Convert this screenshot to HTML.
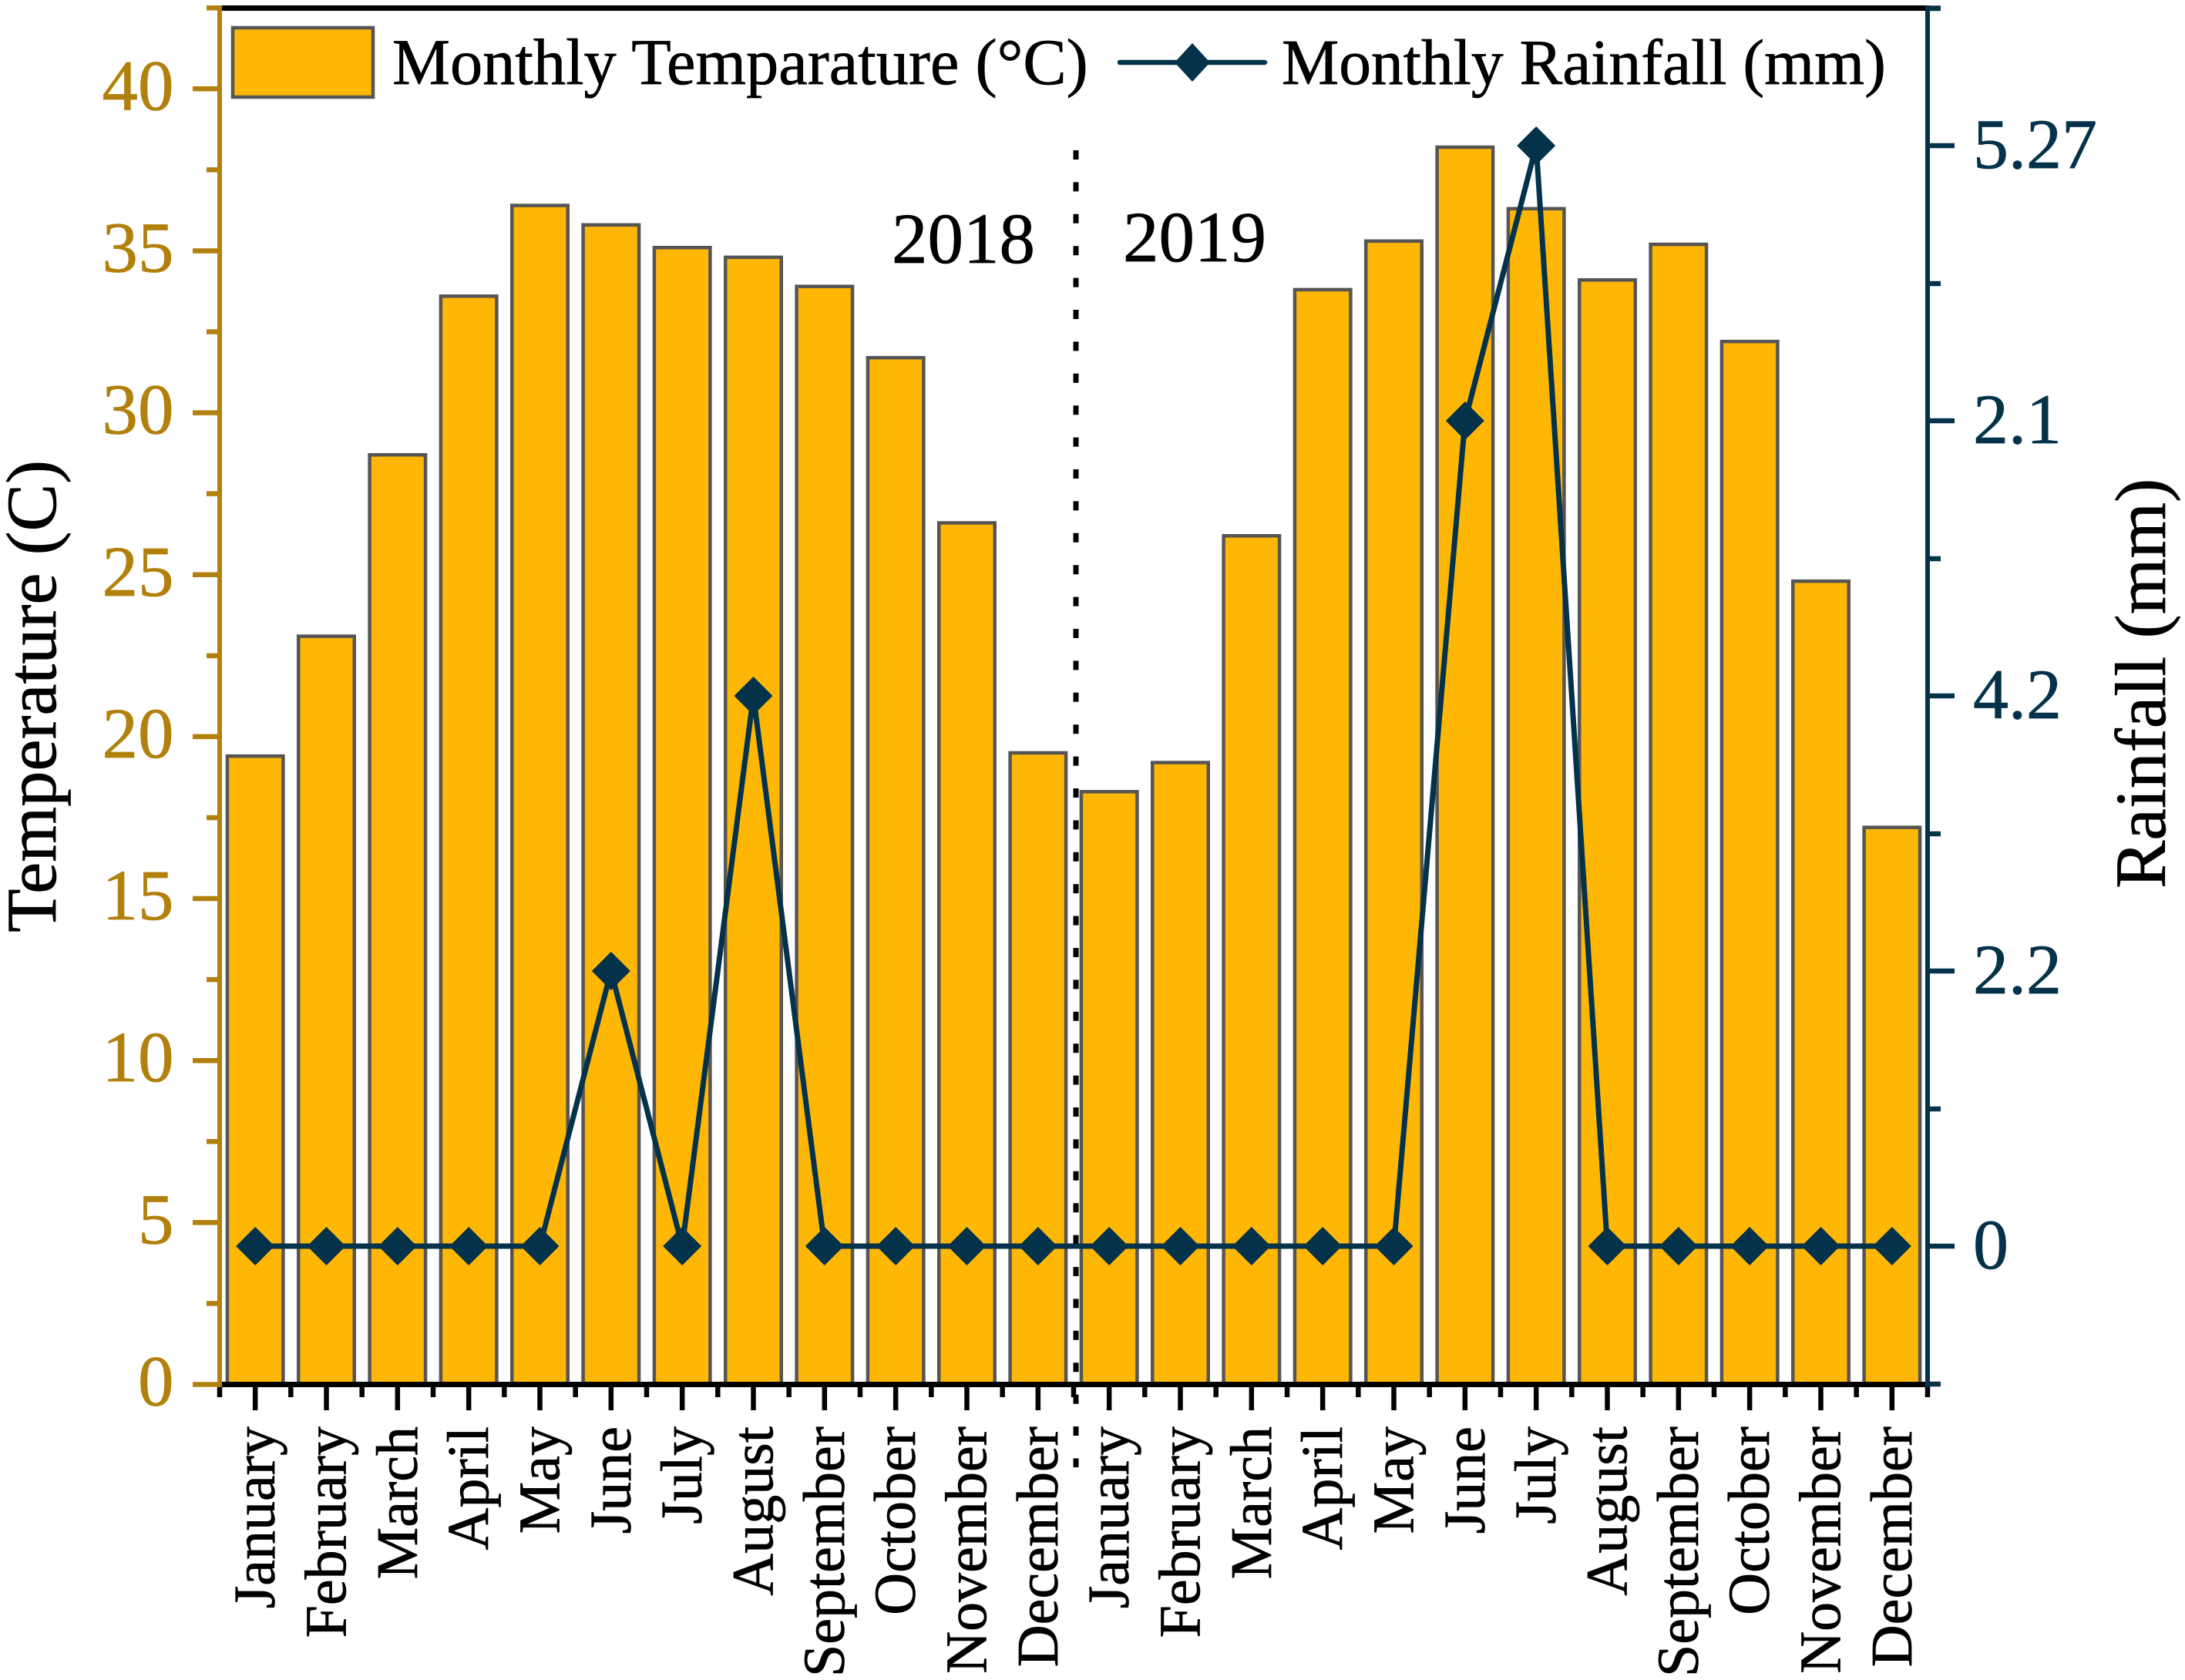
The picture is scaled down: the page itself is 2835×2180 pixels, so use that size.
<!DOCTYPE html>
<html lang="en">
<head>
<meta charset="utf-8">
<title>Monthly Temperature and Rainfall 2018-2019</title>
<style>
  html, body { margin: 0; padding: 0; background: #ffffff; }
  svg { display: block; }
  text { font-family: "Liberation Serif", serif; stroke-width: 0.7px; }
</style>
</head>
<body>
<svg id="chart" xmlns="http://www.w3.org/2000/svg" width="2835" height="2180" viewBox="0 0 2835 2180"></svg>
<script>
const months = ["January","February","March","April","May","June","July","August","September","October","November","December","January","February","March","April","May","June","July","August","September","October","November","December"];
const temperature = [19.4,23.1,28.7,33.6,36.4,35.8,35.1,34.8,33.9,31.7,26.6,19.5,18.3,19.2,26.2,33.8,35.3,38.2,36.3,34.1,35.2,32.2,24.8,17.2];
const rainfall = [0,0,0,0,0,2.2,0,4.2,0,0,0,0,0,0,0,0,0,2.1,5.27,0,0,0,0,0];
const tempTicks = [0,5,10,15,20,25,30,35,40];
const rainTicks = [0,2.2,4.2,2.1,5.27];

const svg = document.getElementById('chart');
const NS = 'http://www.w3.org/2000/svg';
const GOLD = '#b2800c', NAVY = '#04324a', BAR = '#ffb706', EDGE = '#555555';
const LEFT = 285, RIGHT = 2501, TOP = 10.5, BASE = 1796.5;
const STEP = (RIGHT - LEFT) / months.length;

function xBand(i) { return LEFT + STEP * (i + 0.5); }
function yTemp(v) { return BASE - v * 42.03; }
/* The right axis is ordinal in the source: each labelled level sits one step above the last. */
function rainLevel(v) { const i = rainTicks.indexOf(v); return i >= 0 ? i : v * (rainTicks.length - 1) / 5.27; }
function yRain(v) { return 1617 - rainLevel(v) * 357; }

function make(tag, attrs, txt) {
  const el = document.createElementNS(NS, tag);
  for (const k in attrs) el.setAttribute(k, attrs[k]);
  if (txt !== undefined) el.textContent = txt;
  svg.appendChild(el);
  return el;
}
function seg(x1, y1, x2, y2, color, w) {
  return make('line', { x1, y1, x2, y2, stroke: color, 'stroke-width': w });
}
let el;

/* bars */
temperature.forEach(function (v, i) {
  const r = make('rect', { x: xBand(i) - 36.25, y: yTemp(v), width: 72.5, height: BASE - yTemp(v), fill: BAR, stroke: EDGE, 'stroke-width': 4.5 });
  
  
});

/* year divider */
el = make('line', { x1: 1396, y1: 195, x2: 1396, y2: 1904, stroke: '#000', 'stroke-width': 7, 'stroke-dasharray': '12 29.4' });



/* top and bottom axes */
el = seg(LEFT, TOP, RIGHT, TOP, '#000', 7);


el = seg(LEFT, BASE, RIGHT, BASE, '#000', 7);



/* x ticks and labels */
months.forEach(function (m, i) {
  const t = seg(xBand(i), BASE, xBand(i), 1830, '#000', 6.5);
  
  
  const lbl = make('text', { transform: 'translate(' + (xBand(i) + 25) + ',1851) rotate(-90)', 'text-anchor': 'end', 'font-size': 76, fill: '#000', stroke: '#000' }, m);
  
  
});
for (let i = 0; i <= months.length; i++) {
  const t = seg(LEFT + STEP * i, BASE, LEFT + STEP * i, 1813, '#000', 6.5);
  
  
}

/* left axis */
el = seg(LEFT, TOP - 3.5, LEFT, BASE + 3.5, GOLD, 6);


tempTicks.forEach(function (v) {
  const t = seg(250, yTemp(v), LEFT, yTemp(v), GOLD, 6.5);
  
  
  const m = seg(268, yTemp(v + 2.5), LEFT, yTemp(v + 2.5), GOLD, 6.5);
  
  
  const lbl = make('text', { x: 225.5, y: yTemp(v) + 27, 'text-anchor': 'end', 'font-size': 93, fill: GOLD, stroke: GOLD }, String(v));
  
  
});

/* right axis */
el = seg(RIGHT, TOP - 3.5, RIGHT, BASE + 3.5, NAVY, 6);


rainTicks.forEach(function (v, i) {
  const y = 1617 - i * 357;
  const t = seg(RIGHT, y, 2536, y, NAVY, 6.5);
  
  
  const lbl = make('text', { x: 2560, y: y + 29, 'font-size': 92, fill: NAVY, stroke: NAVY }, String(v));
  
  
});
for (let i = 0; i <= rainTicks.length; i++) {
  const y = 1796 - i * 357;
  const t = seg(RIGHT, y, 2518, y, NAVY, 6.5);
  
  
}
el = seg(RIGHT, TOP, 2518, TOP, NAVY, 6.5);



/* rainfall line */
el = make('polyline', { points: rainfall.map(function (v, i) { return xBand(i) + ',' + yRain(v); }).join(' '), fill: 'none', stroke: NAVY, 'stroke-width': 7, 'stroke-linejoin': 'miter' });


rainfall.forEach(function (v, i) {
  const cx = xBand(i), cy = yRain(v);
  const d = make('polygon', { points: [cx - 25, cy, cx, cy - 25, cx + 25, cy, cx, cy + 25].join(' '), fill: NAVY });
  
  
});

/* axis titles */
el = make('text', { transform: 'translate(72,1210) rotate(-90)', 'font-size': 92.6, fill: '#000', stroke: '#000' }, 'Temperature (C)');


el = make('text', { transform: 'translate(2809,1153) rotate(-90)', 'font-size': 93.5, fill: '#000', stroke: '#000' }, 'Rainfall (mm)');



/* year labels */
el = make('text', { x: 1157, y: 341, 'font-size': 93, fill: '#000', stroke: '#000' }, '2018');


el = make('text', { x: 1457, y: 339, 'font-size': 93, fill: '#000', stroke: '#000' }, '2019');



/* legend */
el = make('rect', { x: 302, y: 36, width: 182, height: 90, fill: BAR, stroke: EDGE, 'stroke-width': 4.5 });


el = make('text', { x: 509, y: 109, 'font-size': 84.4, fill: '#000', stroke: '#000' }, 'Monthly Temparature (°C)');


el = make('line', { x1: 1453, y1: 81, x2: 1641, y2: 81, stroke: NAVY, 'stroke-width': 6.5, 'stroke-linecap': 'round' });


el = make('polygon', { points: '1524,81 1547,56 1570,81 1547,106', fill: NAVY });


el = make('text', { x: 1663, y: 109, 'font-size': 83.5, fill: '#000', stroke: '#000' }, 'Monthly Rainfall (mm)');


</script>
</body>
</html>
